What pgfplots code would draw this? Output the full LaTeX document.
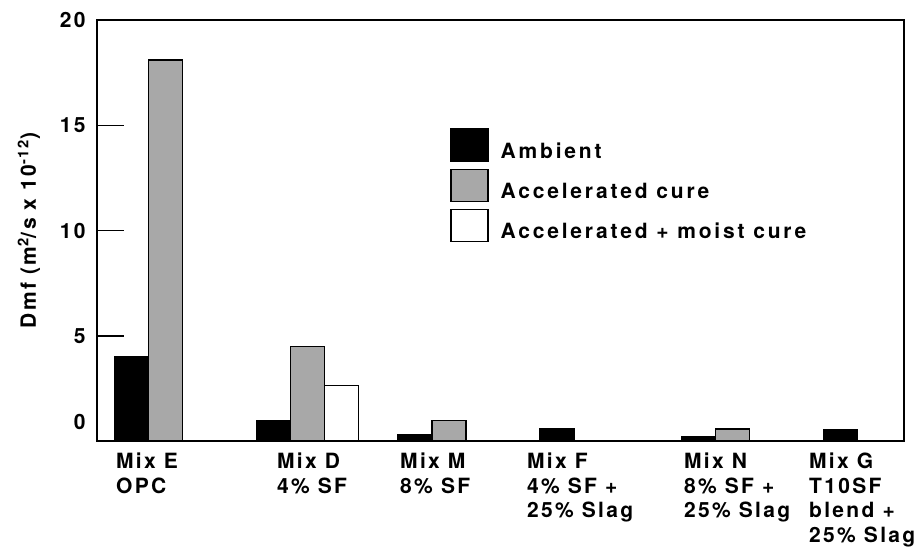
\documentclass[border=0pt]{standalone}
\usepackage{fontspec}
\setmainfont{TeX Gyre Heros}[LetterSpace=11]
\newfontfamily\legfont{TeX Gyre Heros}[LetterSpace=13.5]
\usepackage{pgfplots}
\pgfplotsset{compat=1.18}
\usetikzlibrary{calc}
\newcommand\chartfont{\fontsize{21}{24.5}\selectfont\bfseries}
\definecolor{accgray}{HTML}{A8A8A8}
\begin{document}
\begin{tikzpicture}
\begin{axis}[
  at={(0pt,0pt)}, anchor=south west,
  scale only axis, width=807pt, height=421pt,
  xmin=-0.483, xmax=5.208, ymin=0, ymax=20,
  axis line style={line width=1.5pt},
  xtick=\empty,
  ytick={5,10,15,20},
  extra y ticks={0},
  extra y tick style={major tick length=0pt, yticklabel style={yshift=19pt}},
  ytick pos=left, tick align=inside, major tick length=27pt,
  tick style={line width=1.5pt, black},
  /pgf/number format/assume math mode=true,
  tick label style={font=\chartfont},
  yticklabel style={xshift=-8pt},
  clip=false,
  every axis y label/.style={at={($(axis description cs:0,0.5)+(-68pt,0)$)}, rotate=90, anchor=center, font=\chartfont},
  ylabel={Dmf (m\textsuperscript{2}/s x 10\textsuperscript{-12})},
  legend image code/.code={\draw[#1, line width=1.4pt] (0pt,-10pt) rectangle (37pt,22pt);},
  legend style={draw=none, fill=none, at={(0.4337,0.748)}, anchor=north west,
    font=\legfont\fontsize{21}{25}\selectfont\bfseries, nodes={inner sep=0pt}, column sep=12pt, row sep=7pt},
  legend cell align=left,
]
\addplot[ybar, bar width=34pt, bar shift=-34pt, fill=black, draw=black, line width=1.3pt]
  coordinates {(0,4.0) (1,0.95) (2,0.28) (3,0.57) (4,0.20) (5,0.52)};
\addlegendentry{Ambient}
\addplot[ybar, bar width=34pt, bar shift=0pt, fill=accgray, draw=black, line width=1.3pt]
  coordinates {(0,18.1) (1,4.5) (2,0.97) (4,0.57)};
\addlegendentry{Accelerated cure}
\addplot[ybar, bar width=34pt, bar shift=34pt, fill=white, draw=black, line width=1.3pt]
  coordinates {(1,2.63)};
\addlegendentry{Accelerated + moist cure}
\begin{scope}[every node/.style={anchor=north west, align=left, inner sep=0pt, font=\chartfont, yshift=-12pt}]
\node at (axis cs:-0.349,0) {Mix E\\OPC};
\node at (axis cs:0.786,0) {Mix D\\4\% SF};
\node at (axis cs:1.654,0) {Mix M\\8\% SF};
\node at (axis cs:2.549,0) {Mix F\\4\% SF +\\25\% Slag};
\node at (axis cs:3.656,0) {Mix N\\8\% SF +\\25\% Slag};
\node at (axis cs:4.538,0) {Mix G\\T10SF\\blend +\\25\% Slag};
\end{scope}
\end{axis}
\pgfresetboundingbox
\path (-97pt,-106pt) rectangle (822pt,441pt);
\end{tikzpicture}
\end{document}
